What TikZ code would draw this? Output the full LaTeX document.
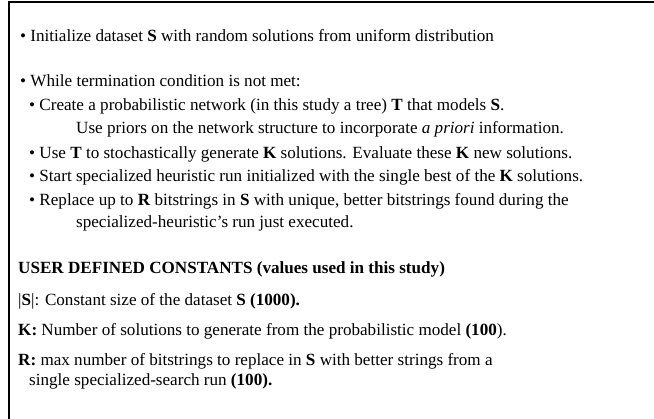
\documentclass[tikz,border=0pt]{standalone}
\usepackage{fontspec}
\setmainfont{Liberation Serif}
\begin{document}
\begin{tikzpicture}[x=1pt,y=-1pt,
  txt/.style={anchor=base west,inner sep=0pt,font=\fontsize{17.1}{20}\selectfont},
  frame/.style={line width=2pt}]
\useasboundingbox (0,0) rectangle (654,419);
\coordinate (tl) at (8.5,2.5);
\coordinate (tr) at (654,2.5);
\coordinate (bl) at (8.5,419);
\draw[frame] (tr) -- (tl) -- (bl);
\node[txt] (l1) at (20,41.5) {• Initialize dataset \textbf{S} with random solutions from uniform distribution};
\node[txt] (l2) at (20,86.5) {• While termination condition is not met:};
\node[txt] (l3) at (29,110.5) {• Create a probabilistic network (in this study a tree) \textbf{T} that models \textbf{S}.};
\node[txt] (l4) at (76,133.5) {Use priors on the network structure to incorporate \textit{a priori} information.};
\node[txt] (l5) at (29,158.5) {• Use \textbf{T} to stochastically generate \textbf{K} solutions. Evaluate these \textbf{K} new solutions.};
\node[txt] (l6) at (29,181.5) {• Start specialized heuristic run initialized with the single best of the \textbf{K} solutions.};
\node[txt] (l7) at (29,205.5) {• Replace up to \textbf{R} bitstrings in \textbf{S} with unique, better bitstrings found during the};
\node[txt] (l8) at (76,227.5) {specialized-heuristic’s run just executed.};
\node[txt] (l9) at (18,273.5) {\textbf{USER DEFINED CONSTANTS (values used in this study)}};
\node[txt] (l10) at (18,305.5) {|\textbf{S}|: Constant size of the dataset \textbf{S (1000).}};
\node[txt] (l11) at (18,335.5) {\textbf{K:} Number of solutions to generate from the probabilistic model \textbf{(100}).};
\node[txt] (l12) at (18,365.5) {\textbf{R:} max number of bitstrings to replace in \textbf{S} with better strings from a};
\node[txt] (l13) at (29,386) {single specialized-search run \textbf{(100).}};
\end{tikzpicture}
\end{document}
